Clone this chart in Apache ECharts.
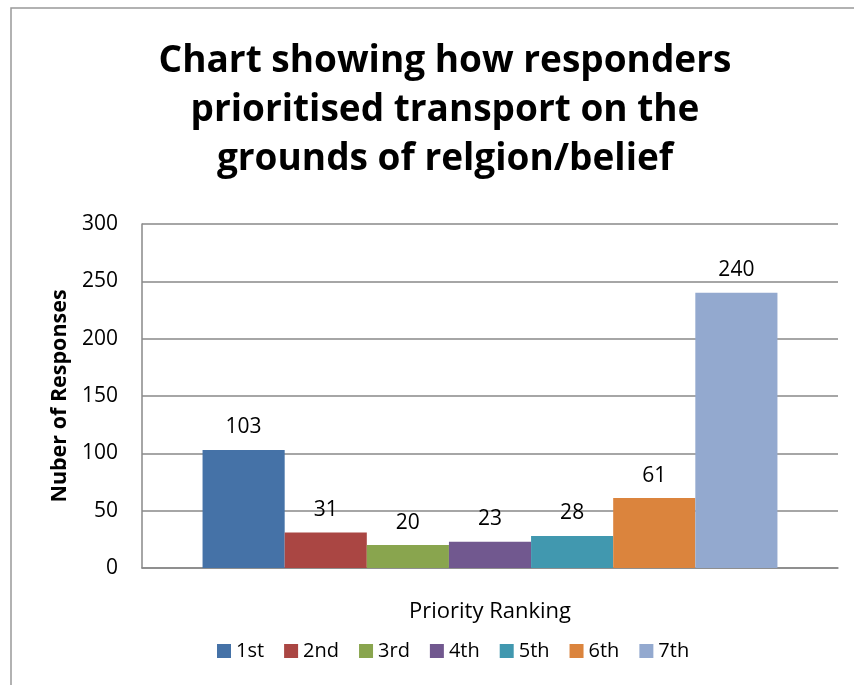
<!DOCTYPE html>
<html>
<head>
<meta charset="utf-8">
<script src="https://cdn.jsdelivr.net/npm/echarts@6/dist/echarts.min.js"></script>
<style>
html,body{margin:0;padding:0;background:#fff;}
#chart{width:854px;height:685px;}
</style>
</head>
<body>
<div id="chart"></div>
<script>
const titleText = 'Chart showing how responders\nprioritised transport on the\ngrounds of relgion/belief';
const categories = [''];
const seriesNames = ['1st', '2nd', '3rd', '4th', '5th', '6th', '7th'];
const seriesValues = [103, 31, 20, 23, 28, 61, 240];
const seriesColors = ['#4572A7', '#AA4643', '#89A54E', '#71588F', '#4198AF', '#DB843D', '#93A9CF'];
const yTicks = { min: 0, max: 300, interval: 50 };
const yAxisName = 'Nuber of Responses';
const xAxisName = 'Priority Ranking';

const font = '"Open Sans", "Noto Sans", sans-serif';
const chart = echarts.init(document.getElementById('chart'), null, { renderer: 'canvas' });

const series = seriesNames.map((name, i) => ({
  name: name,
  type: 'bar',
  data: [seriesValues[i]],
  itemStyle: { color: seriesColors[i] },
  barGap: '0%',
  barCategoryGap: '17.4%',
  label: {
    show: true,
    position: 'top',
    distance: 12,
    color: '#000',
    fontSize: 21,
    fontFamily: font
  }
}));

chart.setOption({
  animation: false,
  backgroundColor: '#fff',
  graphic: [{
    type: 'rect',
    shape: { x: 11, y: 8, width: 860, height: 700 },
    style: { fill: 'none', stroke: '#999', lineWidth: 1.5 },
    silent: true
  }],
  title: {
    text: titleText,
    left: 440,
    top: 32,
    textAlign: 'center',
    textStyle: {
      fontFamily: font,
      fontWeight: 'bold',
      fontSize: 37,
      lineHeight: 49,
      color: '#000'
    }
  },
  legend: {
    data: seriesNames,
    bottom: 19,
    left: 212,
    itemWidth: 14,
    itemHeight: 14,
    itemGap: 20,
    icon: 'rect',
    textStyle: { fontFamily: font, fontSize: 20, color: '#000' }
  },
  grid: { left: 142, right: 16, top: 224, bottom: 117 },
  xAxis: {
    type: 'category',
    data: categories,
    name: xAxisName,
    nameLocation: 'middle',
    nameGap: 33,
    nameTextStyle: { fontFamily: font, fontSize: 22, color: '#000' },
    axisLine: { lineStyle: { color: '#888', width: 1.5 } },
    axisTick: { show: false },
    axisLabel: { show: false }
  },
  yAxis: {
    type: 'value',
    min: yTicks.min,
    max: yTicks.max,
    interval: yTicks.interval,
    name: yAxisName,
    nameLocation: 'middle',
    nameGap: 67,
    nameTextStyle: { fontFamily: font, fontSize: 21.5, fontWeight: 'bold', color: '#000' },
    axisLine: { show: true, lineStyle: { color: '#888', width: 1.5 } },
    axisTick: { show: false },
    axisLabel: { fontFamily: font, fontSize: 21, color: '#000', margin: 24 },
    splitLine: { lineStyle: { color: '#888', width: 1.5 } }
  },
  series: series
});
</script>
</body>
</html>
